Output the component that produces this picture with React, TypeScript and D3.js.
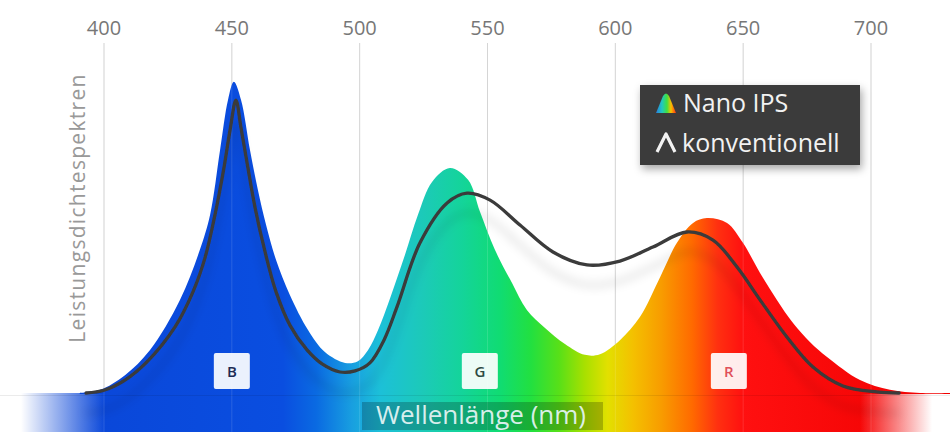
import React from "react";
import * as d3 from "d3";

const W = 950;
const H = 432;

const tickValues = [400, 450, 500, 550, 600, 650, 700];

// Nano IPS spectrum (wavelength nm, relative power)
const nanoNm = [390.5, 398.4, 408.2, 418.0, 429.7, 437.5, 441.5, 445.4, 448.5, 450.8, 453.6, 457.1, 460.2, 463.4, 467.3, 472.7, 479.8, 486.4, 494.3, 499.3, 503.3, 507.2, 511.9, 517.7, 522.8, 528.3, 535.3, 542.4, 547.1, 552.9, 559.6, 565.4, 572.5, 580.3, 588.1, 594.0, 601.8, 609.6, 617.5, 624.1, 630.4, 635.8, 643.7, 649.9, 656.6, 663.2, 669.5, 676.1, 682.8, 695.7, 707.4, 719.2, 730.9];
const nanoVal = [0, 0.9, 5.1, 12.3, 26.6, 40.9, 50.9, 69.4, 83.7, 88.9, 83.7, 69.4, 58.0, 48.0, 38.0, 28.0, 18.0, 11.7, 8.6, 9.1, 12.3, 18.0, 27.1, 39.4, 50.9, 60.3, 64.3, 60.9, 51.7, 40.9, 31.4, 23.7, 18.6, 14.0, 10.9, 11.1, 15.1, 21.7, 33.1, 42.9, 48.6, 50.0, 48.6, 42.9, 34.3, 26.6, 20.0, 14.6, 10.3, 3.7, 0.9, 0, 0];

// Conventional spectrum
const convNm = [393.0, 400.0, 408.2, 416.8, 427.8, 434.8, 439.5, 443.4, 446.9, 449.3, 451.6, 453.6, 455.9, 459.1, 463.0, 467.3, 472.7, 479.4, 485.3, 492.3, 498.2, 504.0, 509.5, 514.6, 523.6, 534.2, 542.0, 551.0, 562.7, 575.6, 588.9, 601.8, 614.7, 628.0, 638.2, 647.6, 656.6, 667.1, 677.3, 689.0, 702.3, 711.0];
const convVal = [0, 0.8, 3.7, 8.9, 18.9, 28.9, 38.6, 50.9, 64.3, 75.1, 83.7, 75.7, 66.0, 52.9, 40.3, 28.9, 19.4, 12.3, 8.3, 6.0, 6.3, 8.6, 15.1, 24.6, 42.9, 54.3, 57.1, 55.1, 48.0, 40.3, 36.6, 37.7, 41.7, 46.0, 43.7, 36.0, 26.6, 16.0, 7.4, 2.0, 0.3, 0];

const peakLabels = ["B", "G", "R"];
const peakLabelNm = [450, 547, 644.4];
const peakLabelColors = ["#1d2b55", "#2d4a42", "#e0505a"];

const legendLabels = ["Nano IPS", "konventionell"];
const xAxisTitle = "Wellenlänge (nm)";
const yAxisTitle = "Leistungsdichtespektren";

// spectrum colour stops, by wavelength
const spectrumNm = [360, 470, 483, 497, 508, 525, 540, 555, 567, 578, 588, 597, 607, 618, 630, 640, 650, 730];
const spectrumColor = ["#0a44d6", "#0a4ee0", "#0a6ae2", "#189fe0", "#1cc0d8", "#1ccab8", "#14d49a", "#10dc72", "#22e040", "#58e018", "#a8e000", "#e2e000", "#f4c000", "#f89c00", "#ff6a00", "#ff3010", "#ff1010", "#f00000"];

export default function App() {
  const x = d3.scaleLinear().domain([400, 700]).range([104, 871]);
  const y = d3.scaleLinear().domain([0, 100]).range([393, 43]);

  const nanoData = nanoNm.map((n, i) => [n, nanoVal[i]] as [number, number]);
  const convData = convNm.map((n, i) => [n, convVal[i]] as [number, number]);

  const curve = d3.curveCatmullRom.alpha(0.5);
  const area = d3
    .area<[number, number]>()
    .x((d) => x(d[0]))
    .y0(y(0) + 1)
    .y1((d) => Math.min(y(0), y(d[1])))
    .curve(curve);
  const line = d3
    .line<[number, number]>()
    .x((d) => x(d[0]))
    .y((d) => y(d[1]))
    .curve(curve);

  const stops = spectrumNm.map((n, i) => ({ off: x(n) / W, color: spectrumColor[i] }));

  const bandTop = 393;

  return (
    <svg
      width={W}
      height={H}
      style={{ position: "absolute", left: 0, top: 0, background: "#fff" }}
      fontFamily="'Open Sans', sans-serif"
    >
      <defs>
        <linearGradient id="spec" gradientUnits="userSpaceOnUse" x1={0} y1={0} x2={W} y2={0}>
          {stops.map((s, i) => (
            <stop key={i} offset={Math.max(0, Math.min(1, s.off))} stopColor={s.color} />
          ))}
        </linearGradient>
        <linearGradient id="fadeL" x1="0" x2="1" y1="0" y2="0">
          <stop offset="0" stopColor="#fff" stopOpacity={1} />
          <stop offset="0.2" stopColor="#fff" stopOpacity={1} />
          <stop offset="1" stopColor="#fff" stopOpacity={0} />
        </linearGradient>
        <linearGradient id="fadeR" x1="0" x2="1" y1="0" y2="0">
          <stop offset="0" stopColor="#fff" stopOpacity={0} />
          <stop offset="0.8" stopColor="#fff" stopOpacity={1} />
          <stop offset="1" stopColor="#fff" stopOpacity={1} />
        </linearGradient>
        <linearGradient id="iconGrad" x1="0" x2="1" y1="0" y2="0">
          <stop offset="0" stopColor="#2a7be0" />
          <stop offset="0.3" stopColor="#20c8c0" />
          <stop offset="0.55" stopColor="#40e040" />
          <stop offset="0.75" stopColor="#f8c000" />
          <stop offset="1" stopColor="#ff3010" />
        </linearGradient>
        <filter id="lineShadow" x="-10%" y="-20%" width="120%" height="160%">
          <feDropShadow dx={0} dy={20} stdDeviation={5} floodColor="#000" floodOpacity={0.16} />
        </filter>
        <filter id="boxShadow" x="-10%" y="-20%" width="130%" height="150%">
          <feDropShadow dx={2} dy={4} stdDeviation={4} floodColor="#000" floodOpacity={0.35} />
        </filter>
      </defs>

      {/* tick labels */}
      {tickValues.map((t) => (
        <text key={"t" + t} x={x(t)} y={35} textAnchor="middle" fontSize={20} fill="#777">
          {t}
        </text>
      ))}

      {/* grid lines */}
      {tickValues.map((t) => (
        <line key={"g" + t} x1={x(t)} x2={x(t)} y1={43} y2={H} stroke="#cfcfcf" strokeWidth={1} />
      ))}

      {/* y axis title */}
      <text
        transform={`translate(85,${208}) rotate(-90)`}
        textAnchor="middle"
        fontSize={21}
        letterSpacing={1.3}
        fill="#999"
      >
        {yAxisTitle}
      </text>

      {/* bottom spectrum band */}
      <rect x={0} y={bandTop} width={W} height={H - bandTop} fill="url(#spec)" />
      <rect x={0} y={bandTop} width={105} height={H - bandTop} fill="url(#fadeL)" />
      <rect x={860} y={bandTop} width={90} height={H - bandTop} fill="url(#fadeR)" />

      {/* Nano IPS area */}
      <path d={area(nanoData) || ""} fill="url(#spec)" />

      {/* grid lines over fill */}
      {tickValues.map((t) => (
        <line key={"go" + t} x1={x(t)} x2={x(t)} y1={43} y2={H} stroke="#fff" strokeOpacity={0.13} strokeWidth={1} />
      ))}
      <line x1={0} x2={W} y1={395.5} y2={395.5} stroke="#000" strokeOpacity={0.08} />

      {/* conventional line */}
      <path
        d={line(convData) || ""}
        fill="none"
        stroke="#3a3a3a"
        strokeWidth={3.3}
        strokeLinejoin="round"
        strokeLinecap="round"
        filter="url(#lineShadow)"
      />

      {/* peak labels */}
      {peakLabels.map((l, i) => (
        <g key={l} transform={`translate(${x(peakLabelNm[i])},371)`}>
          <rect x={-18} y={-18} width={36} height={36} rx={2} fill="#fff" fillOpacity={0.92} />
          <text y={6} textAnchor="middle" fontSize={15} fontWeight={600} fill={peakLabelColors[i]}>
            {l}
          </text>
        </g>
      ))}

      {/* x axis title */}
      <rect x={362} y={402} width={241} height={28} fill="#000" fillOpacity={0.22} />
      <text x={481} y={424} textAnchor="middle" fontSize={26} fill="#e4f4f4" fillOpacity={0.95}>
        {xAxisTitle}
      </text>

      {/* legend */}
      <g>
        <rect x={640} y={85} width={220} height={80} fill="#3b3b3b" filter="url(#boxShadow)" />
        <path d="M656,113 L663,96 Q666,91 669,96 L676,113 Z" fill="url(#iconGrad)" />
        <text x={683} y={112} fontSize={25} fill="#f2f2f2">
          {legendLabels[0]}
        </text>
        <path d="M657,152 L666,134 L675,152" fill="none" stroke="#f2f2f2" strokeWidth={3.2} strokeLinejoin="round" />
        <text x={682} y={152} fontSize={25} fill="#f2f2f2">
          {legendLabels[1]}
        </text>
      </g>
    </svg>
  );
}
